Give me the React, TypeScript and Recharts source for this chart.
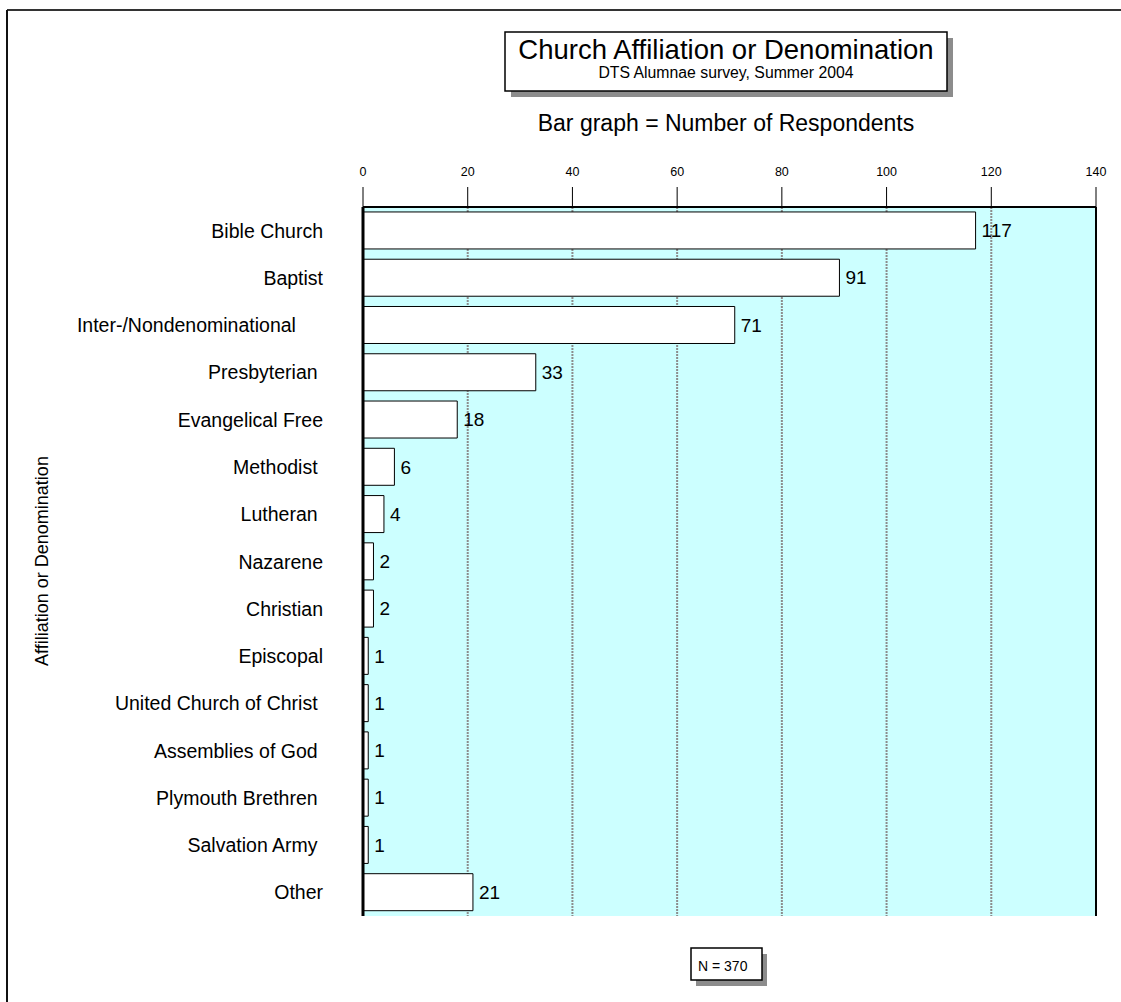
import React from "react";
import {
  BarChart,
  Bar,
  XAxis,
  YAxis,
  CartesianGrid,
  LabelList,
  ReferenceLine,
} from "recharts";

// Survey answers, in the order they are listed on the chart
const affiliations = [
  "Bible Church",
  "Baptist",
  "Inter-/Nondenominational     ",
  "Presbyterian ",
  "Evangelical Free",
  "Methodist ",
  "Lutheran ",
  "Nazarene",
  "Christian",
  "Episcopal",
  "United Church of Christ ",
  "Assemblies of God ",
  "Plymouth Brethren ",
  "Salvation Army ",
  "Other",
];

const respondents = [117, 91, 71, 33, 18, 6, 4, 2, 2, 1, 1, 1, 1, 1, 21];

const axisTicks = [0, 20, 40, 60, 80, 100, 120, 140];

const FONT = "'Liberation Sans', Arial, Helvetica, sans-serif";
const W = 1121;
const H = 1002;

const rows = affiliations.map((name, i) => ({ name, value: respondents[i] }));
const total = respondents.reduce((s, v) => s + v, 0);

const CategoryTick = (props: any) => {
  const { x, y, payload } = props;
  return (
    <text
      x={x}
      y={y}
      textAnchor="end"
      dominantBaseline="central"
      xmlSpace="preserve"
      style={{ whiteSpace: "pre" }}
      fontSize={19.5}
      fontFamily={FONT}
      fill="#000"
    >
      {payload.value}
    </text>
  );
};

export default function App() {
  return (
    <div style={{ position: "absolute", left: 0, top: 0, width: W, height: H, background: "#fff" }}>
      <BarChart
        width={W}
        height={H}
        data={rows}
        layout="vertical"
        margin={{ top: 0, right: 25, bottom: 86, left: 0 }}
        barCategoryGap="10.5%"
      >
        <CartesianGrid
          horizontal={false}
          fill="#ccffff"
          stroke="#8c8c8c"
          strokeWidth={2}
          strokeDasharray="2 1"
        />
        <XAxis
          type="number"
          orientation="top"
          domain={[0, 140]}
          ticks={axisTicks}
          height={207}
          axisLine={{ stroke: "#000", strokeWidth: 2 }}
          tickLine={{ stroke: "#000", strokeWidth: 1 }}
          tickSize={20}
          tickMargin={11}
          tick={{ fontSize: 12.5, fontFamily: FONT, fill: "#000" }}
        />
        <YAxis
          type="category"
          dataKey="name"
          width={363}
          interval={0}
          axisLine={{ stroke: "#000", strokeWidth: 3 }}
          tickLine={false}
          tickSize={0}
          tickMargin={40}
          tick={<CategoryTick />}
        />
        <ReferenceLine x={140} stroke="#000" strokeWidth={2} ifOverflow="extendDomain" />
        <Bar dataKey="value" fill="#fff" stroke="#000" strokeWidth={1} isAnimationActive={false}>
          <LabelList
            dataKey="value"
            position="right"
            offset={6}
            fontSize={19}
            fontFamily={FONT}
            fill="#000"
          />
        </Bar>
      </BarChart>

      {/* frame, titles and the sample-size note */}
      <svg
        width={W}
        height={H}
        style={{ position: "absolute", left: 0, top: 0, pointerEvents: "none" }}
        fontFamily={FONT}
      >
        <line x1={7} y1={10} x2={W} y2={10} stroke="#333" strokeWidth={2} />
        <line x1={7} y1={10} x2={7} y2={H} stroke="#111" strokeWidth={2} />

        <rect x={511} y={38} width={442} height={59} fill="#8c8c8c" />
        <rect x={505} y={32} width={442} height={59} fill="#fff" stroke="#000" strokeWidth={1.5} />
        <text x={726} y={59} textAnchor="middle" fontSize={27.5} fill="#000">
          Church Affiliation or Denomination
        </text>
        <text x={726} y={78} textAnchor="middle" fontSize={15.8} fill="#000">
          DTS Alumnae survey, Summer 2004
        </text>

        <text x={726} y={131} textAnchor="middle" fontSize={23} fill="#000">
          Bar graph = Number of Respondents
        </text>

        <text
          x={48}
          y={561}
          textAnchor="middle"
          fontSize={18}
          fill="#000"
          transform="rotate(-90 48 561)"
        >
          Affiliation or Denomination
        </text>

        <rect x={696} y={954} width={71} height={32} fill="#8c8c8c" />
        <rect x={691} y={948} width={71} height={32} fill="#fff" stroke="#000" strokeWidth={1.5} />
        <text x={698} y={971} fontSize={14} fill="#000">
          N = {total}
        </text>
      </svg>
    </div>
  );
}
